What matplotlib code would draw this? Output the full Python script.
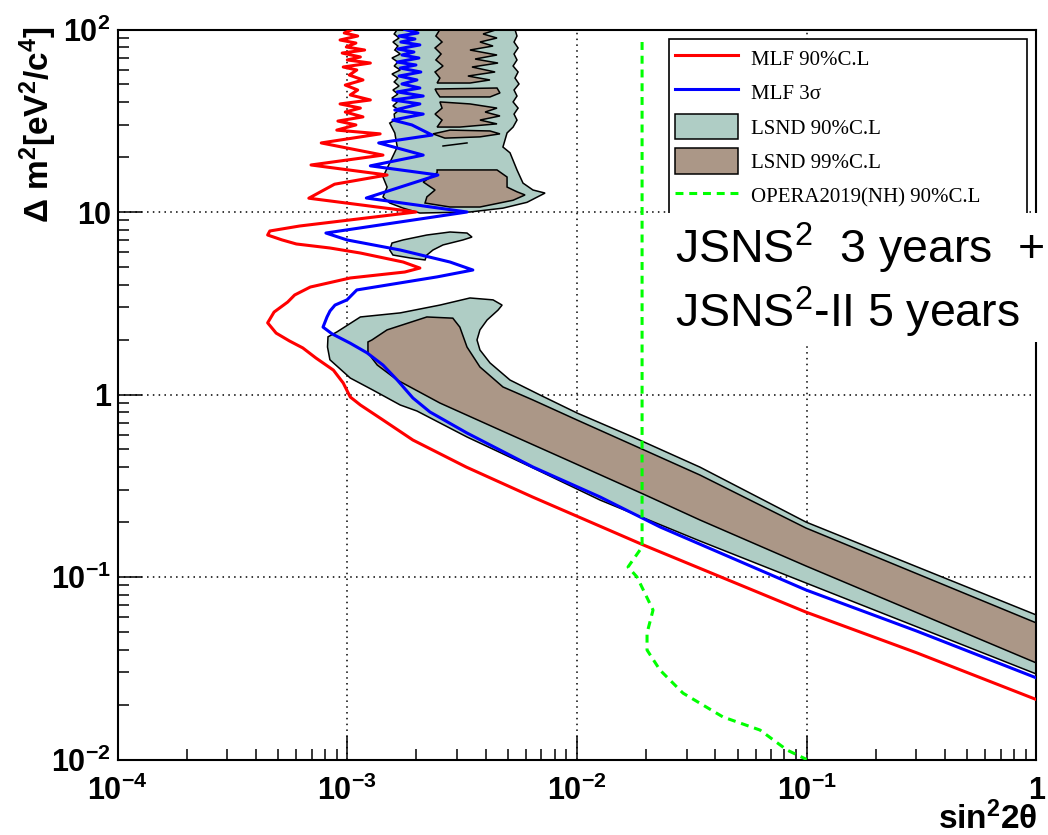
import numpy as np
import matplotlib
matplotlib.use("Agg")
import matplotlib.pyplot as plt
from matplotlib.lines import Line2D
from matplotlib.patches import Patch, Rectangle
from matplotlib.ticker import FixedLocator, FixedFormatter, LogLocator, NullFormatter

plt.rcParams["mathtext.default"] = "regular"
plt.rcParams["font.family"] = ["Liberation Sans", "DejaVu Sans"]

TEAL = "#afcdc5"
BROWN = "#ab9787"

# ---- MLF sensitivity curves (sin^2 2theta, dm^2) ----
MLF_90 = [
    (1.05e-3, 100), (9.7e-4, 95.7), (1.11e-3, 92.1), (9.3e-4, 87.6), (1.09e-3, 84.3),
    (9.9e-4, 80.2), (1.19e-3, 77.2), (9.5e-4, 74.3), (1.14e-3, 70.7), (1.0e-3, 68.1),
    (1.26e-3, 65.5), (9.6e-4, 62.3), (1.10e-3, 60.0), (1.02e-3, 56.3), (1.17e-3, 52.9),
    (9.8e-4, 49.6), (1.11e-3, 46.6), (1.03e-3, 43.8), (1.26e-3, 41.1), (9.3e-4, 39.1),
    (1.14e-3, 37.1), (9.8e-4, 35.3), (1.17e-3, 33.2), (9.1e-4, 31.5), (1.09e-3, 30.0),
    (9.0e-4, 28.1), (1.39e-3, 26.8), (7.7e-4, 23.9), (1.43e-3, 20.5), (6.95e-4, 18.1),
    (1.49e-3, 15.95), (8.8e-4, 14.2), (6.8e-4, 11.9), (1.99e-3, 10.0), (6.2e-4, 8.38),
    (4.6e-4, 7.87), (4.5e-4, 7.48), (5.2e-4, 7.03), (6.0e-4, 6.68), (8.4e-4, 6.35),
    (1.14e-3, 5.96), (1.75e-3, 5.32), (2.07e-3, 4.93), (1.78e-3, 4.69), (1.03e-3, 4.35),
    (6.9e-4, 3.88), (5.9e-4, 3.51), (5.5e-4, 3.21), (4.8e-4, 2.83), (4.5e-4, 2.47),
    (4.9e-4, 2.17), (5.6e-4, 1.965), (6.4e-4, 1.80), (7.3e-4, 1.585), (8.7e-4, 1.36),
    (9.6e-4, 1.156), (1.03e-3, 0.969), (1.14e-3, 0.876), (1.43e-3, 0.725), (1.93e-3, 0.563),
    (3.3e-3, 0.40), (6.4e-3, 0.2745), (1.94e-2, 0.150), (9.9e-2, 0.0643), (0.30, 0.0385),
    (1.0, 0.0213),
]

MLF_3SIGMA = [
    (1.78e-3, 100), (2.03e-3, 95.7), (1.68e-3, 92.1), (1.97e-3, 88.7), (1.71e-3, 85.4),
    (2.07e-3, 82.3), (1.66e-3, 78.2), (1.95e-3, 75.3), (1.73e-3, 72.5), (2.05e-3, 69.8),
    (1.65e-3, 66.3), (1.99e-3, 63.9), (1.70e-3, 61.5), (2.09e-3, 58.5), (1.68e-3, 55.6),
    (2.01e-3, 52.9), (1.73e-3, 50.3), (2.07e-3, 47.8), (1.65e-3, 45.5), (2.14e-3, 43.2),
    (1.58e-3, 41.1), (2.07e-3, 39.1), (1.61e-3, 36.2), (2.14e-3, 34.4), (1.58e-3, 31.9),
    (1.91e-3, 30.0), (2.34e-3, 26.4), (1.37e-3, 23.9), (2.14e-3, 20.5), (1.26e-3, 17.9),
    (2.48e-3, 15.95), (1.21e-3, 11.93), (3.32e-3, 10.0), (8.07e-4, 7.67), (9.97e-4, 7.03),
    (1.70e-3, 6.19), (2.80e-3, 5.32), (3.52e-3, 4.81), (2.46e-3, 4.41), (1.10e-3, 3.74),
    (9.97e-4, 3.30), (8.84e-4, 3.09), (8.41e-4, 2.87), (8.16e-4, 2.66), (7.84e-4, 2.34),
    (8.58e-4, 2.15), (1.03e-3, 1.91), (1.22e-3, 1.69), (1.43e-3, 1.45), (1.65e-3, 1.20),
    (1.93e-3, 0.957), (2.29e-3, 0.802), (3.32e-3, 0.615), (6.43e-3, 0.4005), (1.26e-2, 0.2745),
    (2.30e-2, 0.188), (9.93e-2, 0.0849), (0.302, 0.0505), (1.0, 0.028),
]

# ---- LSND allowed regions ----
LSND_90_UPPER = [
    (1.65e-3, 100), (1.60e-3, 94.5), (1.68e-3, 89.8), (1.58e-3, 85.4), (1.66e-3, 81.2),
    (1.61e-3, 77.2), (1.70e-3, 73.4), (1.565e-3, 69.8), (1.66e-3, 66.3), (1.60e-3, 63.1),
    (1.70e-3, 60.0), (1.565e-3, 57.0), (1.66e-3, 54.2), (1.60e-3, 51.6), (1.68e-3, 49.0),
    (1.58e-3, 46.6), (1.66e-3, 44.3), (1.565e-3, 42.1), (1.65e-3, 40.1), (1.58e-3, 38.1),
    (1.68e-3, 36.2), (1.60e-3, 34.4), (1.61e-3, 31.9), (1.53e-3, 30.7), (1.61e-3, 27.1),
    (1.65e-3, 22.7), (1.53e-3, 18.6), (1.43e-3, 15.55), (1.49e-3, 13.7), (1.43e-3, 12.1),
    (1.53e-3, 11.2), (1.75e-3, 10.5), (2.07e-3, 9.87), (3.42e-3, 10.0), (4.76e-3, 10.5),
    (6.06e-3, 11.3), (7.26e-3, 12.7), (6.43e-3, 13.2), (5.82e-3, 14.4), (5.48e-3, 17.0),
    (5.11e-3, 21.1), (4.76e-3, 22.7), (4.96e-3, 27.1), (5.27e-3, 29.2), (5.48e-3, 31.9),
    (5.32e-3, 34.4), (5.54e-3, 37.1), (5.27e-3, 40.1), (5.48e-3, 43.2), (5.32e-3, 46.6),
    (5.59e-3, 50.3), (5.37e-3, 54.2), (5.54e-3, 58.5), (5.27e-3, 63.1), (5.48e-3, 68.1),
    (5.32e-3, 73.4), (5.54e-3, 79.2), (5.32e-3, 85.4), (5.48e-3, 92.1), (5.37e-3, 100),
]

LSND_90_ISLAND = [
    (1.53e-3, 6.19), (1.565e-3, 6.76), (1.75e-3, 7.03), (2.22e-3, 7.48), (2.80e-3, 7.77),
    (3.32e-3, 7.67), (3.49e-3, 7.29), (3.19e-3, 7.03), (2.61e-3, 6.60), (2.36e-3, 6.19),
    (2.22e-3, 5.81), (2.18e-3, 5.46), (1.875e-3, 5.60), (1.58e-3, 5.81),
]

LSND_90_BAND = [
    (8.2e-4, 1.82), (8.24e-4, 2.07), (9.0e-4, 2.20), (1.14e-3, 2.66), (1.70e-3, 2.80),
    (2.53e-3, 3.09), (3.42e-3, 3.38), (4.31e-3, 3.30), (4.72e-3, 3.09), (4.53e-3, 2.90),
    (4.06e-3, 2.56), (3.78e-3, 2.26), (3.67e-3, 1.99), (3.78e-3, 1.754), (4.18e-3, 1.49),
    (5.11e-3, 1.20), (6.9e-3, 0.994), (1.0e-2, 0.792), (1.75e-2, 0.585), (3.43e-2, 0.40),
    (9.93e-2, 0.200), (1.0, 0.0619), (1.0, 0.0294), (9.93e-2, 0.0927), (3.43e-2, 0.1575),
    (1.26e-2, 0.264), (6.43e-3, 0.396), (3.32e-3, 0.585), (2.01e-3, 0.812), (1.70e-3, 0.876),
    (1.29e-3, 1.059), (1.03e-3, 1.231), (8.4e-4, 1.55),
]

LSND_99_TOP = [
    (2.53e-3, 100), (2.43e-3, 92.1), (2.585e-3, 85.4), (2.41e-3, 79.2), (2.56e-3, 73.4),
    (2.43e-3, 68.1), (2.61e-3, 63.1), (2.41e-3, 58.5), (2.53e-3, 54.2), (2.46e-3, 50.9),
    (3.42e-3, 50.9), (4.18e-3, 52.9), (3.35e-3, 55.6), (4.40e-3, 58.5), (3.49e-3, 62.3),
    (4.53e-3, 65.5), (3.60e-3, 68.9), (4.485e-3, 72.5), (3.42e-3, 77.2), (4.31e-3, 81.2),
    (3.78e-3, 85.4), (4.485e-3, 89.8), (3.90e-3, 94.5), (4.485e-3, 100),
]
LSND_99_STRIP = [
    (2.41e-3, 47.2), (4.485e-3, 47.8), (4.62e-3, 44.9), (4.18e-3, 42.7), (2.53e-3, 42.7),
    (2.46e-3, 44.9),
]
LSND_99_MID = [
    (2.53e-3, 40.1), (3.42e-3, 39.1), (4.485e-3, 37.1), (3.98e-3, 35.3), (4.62e-3, 33.6),
    (3.78e-3, 31.9), (4.485e-3, 30.4), (3.09e-3, 29.2), (2.46e-3, 29.2), (2.585e-3, 31.9),
    (2.41e-3, 34.4), (2.585e-3, 37.1),
]
LSND_99_LENS = [
    (2.36e-3, 26.8), (2.80e-3, 28.1), (4.18e-3, 27.8), (4.62e-3, 26.8), (3.78e-3, 25.8),
    (2.66e-3, 25.4),
]
LSND_99_SLIVER = [(2.61e-3, 23.0), (3.32e-3, 23.9)]
LSND_99_LOW = [
    (2.46e-3, 17.0), (4.485e-3, 17.0), (4.96e-3, 15.55), (4.96e-3, 13.7), (5.48e-3, 12.9),
    (5.94e-3, 12.4), (5.27e-3, 11.6), (3.78e-3, 10.65), (2.80e-3, 10.65), (2.18e-3, 11.2),
    (2.22e-3, 12.1), (2.41e-3, 13.2), (2.14e-3, 14.6), (2.46e-3, 16.4),
]
LSND_99_BAND = [
    (1.28e-3, 1.99), (1.49e-3, 2.26), (2.22e-3, 2.66), (2.88e-3, 2.62), (3.09e-3, 2.34),
    (3.32e-3, 1.82), (3.78e-3, 1.415), (4.76e-3, 1.10), (6.43e-3, 0.933), (1.0e-2, 0.725),
    (1.75e-2, 0.529), (3.43e-2, 0.362), (9.93e-2, 0.1855), (1.0, 0.056), (1.0, 0.0338),
    (9.93e-2, 0.1149), (3.43e-2, 0.2053), (1.94e-2, 0.285), (9.05e-3, 0.438), (4.62e-3, 0.639),
    (2.53e-3, 0.898), (1.65e-3, 1.20), (1.35e-3, 1.45), (1.23e-3, 1.69), (1.23e-3, 1.94),
]

# ---- OPERA 2019 (NH) 90% C.L. ----
OPERA_2019 = [
    (0.0192, 85.4), (0.0192, 0.146), (0.01668, 0.1135), (0.01825, 0.100), (0.02143, 0.0659),
    (0.02018, 0.0493), (0.02018, 0.0398), (0.02298, 0.0309), (0.02894, 0.0231),
    (0.04321, 0.0171), (0.0626, 0.0145), (0.0821, 0.01127), (0.1, 0.01),
]

X_TICKS = [1e-4, 1e-3, 1e-2, 1e-1, 1]
X_TICK_LABELS = ["$10^{-4}$", "$10^{-3}$", "$10^{-2}$", "$10^{-1}$", "1"]
Y_TICKS = [1e-2, 1e-1, 1, 10, 100]
Y_TICK_LABELS = ["$10^{-2}$", "$10^{-1}$", "1", "10", "$10^{2}$"]

LEGEND_LABELS = ["MLF 90%C.L", "MLF 3σ", "LSND 90%C.L", "LSND 99%C.L",
                 "OPERA2019(NH) 90%C.L"]


def xy(points):
    arr = np.asarray(points, dtype=float)
    return arr[:, 0], arr[:, 1]


W, H = 1048, 835
fig = plt.figure(figsize=(W / 100, H / 100), dpi=100)
ax = fig.add_axes([117.6 / W, 1 - 759.5 / H, (1036.4 - 117.6) / W, (759.5 - 29.5) / H])
ax.set_xscale("log")
ax.set_yscale("log")
ax.set_xlim(1e-4, 1)
ax.set_ylim(1e-2, 1e2)

# allowed regions
for poly in (LSND_90_UPPER, LSND_90_ISLAND, LSND_90_BAND):
    px, py = xy(poly)
    ax.fill(px, py, facecolor=TEAL, edgecolor="black", linewidth=1.1, zorder=1)
for poly in (LSND_99_TOP, LSND_99_STRIP, LSND_99_MID, LSND_99_LENS, LSND_99_LOW, LSND_99_BAND):
    px, py = xy(poly)
    ax.fill(px, py, facecolor=BROWN, edgecolor="black", linewidth=1.1, zorder=2)
px, py = xy(LSND_99_SLIVER)
ax.plot(px, py, color="black", lw=1.1, zorder=2)

# sensitivity curves
px, py = xy(MLF_90)
ax.plot(px, py, color="#ff0000", lw=2.2, zorder=3)
px, py = xy(MLF_3SIGMA)
ax.plot(px, py, color="#0000ff", lw=2.2, zorder=3)
px, py = xy(OPERA_2019)
ax.plot(px, py, color="#00ff00", lw=2.2, dashes=(2.6, 1.9), zorder=4)

# axes styling
ax.set_axisbelow(True)
ax.grid(True, which="major", color="black", linestyle=(0, (1, 2.8)), linewidth=1.1)
ax.xaxis.set_major_locator(FixedLocator(X_TICKS))
ax.xaxis.set_major_formatter(FixedFormatter(X_TICK_LABELS))
ax.yaxis.set_major_locator(FixedLocator(Y_TICKS))
ax.yaxis.set_major_formatter(FixedFormatter(Y_TICK_LABELS))
ax.xaxis.set_minor_locator(LogLocator(base=10, subs=np.arange(2, 10), numticks=20))
ax.yaxis.set_minor_locator(LogLocator(base=10, subs=np.arange(2, 10), numticks=20))
ax.xaxis.set_minor_formatter(NullFormatter())
ax.yaxis.set_minor_formatter(NullFormatter())
ax.tick_params(which="both", direction="in", top=False, right=False, width=1.1, colors="black")
ax.tick_params(which="major", length=17)
ax.tick_params(which="minor", length=8)
ax.tick_params(axis="x", which="major", pad=12, labelsize=22)
ax.tick_params(axis="y", which="major", pad=5, labelsize=22)
for lbl in ax.get_xticklabels() + ax.get_yticklabels():
    lbl.set_fontweight("bold")
for sp in ax.spines.values():
    sp.set_linewidth(1.5)

# legend
handles = [
    Line2D([], [], color="#ff0000", lw=2.2),
    Line2D([], [], color="#0000ff", lw=2.2),
    Patch(facecolor=TEAL, edgecolor="black", linewidth=1.1),
    Patch(facecolor=BROWN, edgecolor="black", linewidth=1.1),
    Line2D([], [], color="#00ff00", lw=2.2, dashes=(2.6, 1.9)),
]
leg = ax.legend(handles, LEGEND_LABELS, loc="upper left",
                bbox_to_anchor=(0.600, 0.0, 0.390, 0.987), mode="expand",
                borderaxespad=0, prop={"family": "Liberation Serif", "size": 15},
                handlelength=3.0, handleheight=1.5, handletextpad=0.62,
                borderpad=0.3, labelspacing=0.43, frameon=True, fancybox=False,
                edgecolor="black", framealpha=1)
leg.get_frame().set_linewidth(1.2)
leg.set_zorder(6)

# annotation panel
fig.add_artist(Rectangle((667 / W, 1 - 342 / H), (W - 667) / W, (342 - 213) / H,
                         transform=fig.transFigure, facecolor="white",
                         edgecolor="none", zorder=10))
fig.text(675 / W, 1 - 263 / H, r"JSNS$^{2}$  3 years  +", fontsize=33.5,
         ha="left", va="baseline", zorder=11)
fig.text(675 / W, 1 - 327 / H, r"JSNS$^{2}$-II 5 years", fontsize=33.5,
         ha="left", va="baseline", zorder=11)

# axis titles
fig.text(38 / W, 1 - 27 / H, r"$\Delta$ m$^{2}$[eV$^{2}$/c$^{4}$]", rotation=90,
         ha="center", va="top", fontsize=24, fontweight="bold")
fig.text(1038 / W, 1 - 829 / H, r"sin$^{2}$2θ", ha="right", va="baseline",
         fontsize=24, fontweight="bold")

fig.savefig("out.png", dpi=100)
